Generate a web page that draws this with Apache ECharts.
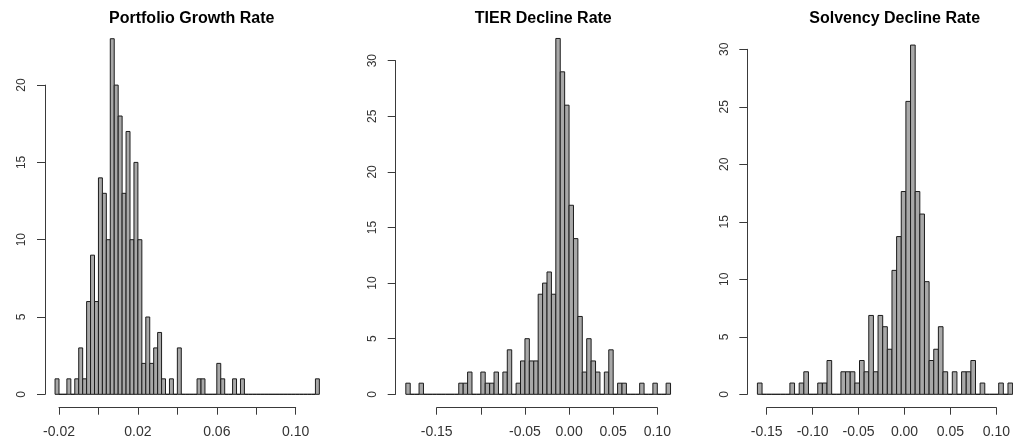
<!DOCTYPE html>
<html><head><meta charset="utf-8">
<script src="https://cdn.jsdelivr.net/npm/echarts@6/dist/echarts.min.js"></script>
<style>html,body{margin:0;padding:0;background:#fff}#c{width:1013px;height:444px}</style>
</head><body><div id="c"></div>
<script>
// ---- data ----
const titles = ['Portfolio Growth Rate', 'TIER Decline Rate', 'Solvency Decline Rate'];

const growthBinStart = -0.022;
const growthBinWidth = 0.002;
const growthCounts = [
  1,0,0,1,0,1,3,1,6,9,
  6,14,13,10,23,20,18,13,17,10,
  15,10,2,5,2,3,4,1,0,1,
  0,3,0,0,0,0,1,1,0,0,
  0,2,1,0,0,1,0,1,0,0,
  0,0,0,0,0,0,0,0,0,0,
  0,0,0,0,0,0,1
];

const tierBinStart = -0.185;
const tierBinWidth = 0.005;
const tierCounts = [
  1,0,0,1,0,0,0,0,0,0,
  0,0,1,1,2,0,0,2,1,1,
  2,0,2,4,0,1,3,5,3,3,
  9,10,11,9,32,29,26,17,14,7,
  2,5,3,2,0,2,4,0,1,1,
  0,0,0,1,0,0,1,0,0,1
];

const solvencyBinStart = -0.16;
const solvencyBinWidth = 0.005;
const solvencyCounts = [
  1,0,0,0,0,0,0,1,0,1,
  2,0,0,1,1,3,0,0,2,2,
  2,1,3,2,7,2,7,6,4,11,
  14,18,26,31,18,16,10,3,4,6,
  2,0,2,0,2,2,3,0,1,0,
  0,0,1,0,1
];

// x tick range [min, max, step] and the labels R printed
const growthXTicks = [-0.02, 0.10, 0.02];
const growthXLabels = ['-0.02', '0.02', '0.06', '0.10'];
const tierXTicks = [-0.15, 0.10, 0.05];
const tierXLabels = ['-0.15', '-0.05', '0.00', '0.05', '0.10'];
const solvencyXTicks = [-0.15, 0.10, 0.05];
const solvencyXLabels = ['-0.15', '-0.10', '-0.05', '0.00', '0.05', '0.10'];
// y tick range [min, max, step]
const growthYTicks = [0, 20, 5];
const tierYTicks = [0, 30, 5];
const solvencyYTicks = [0, 30, 5];

// ---- layout (pixels) ----
const panels = [
  {start: growthBinStart, width: growthBinWidth, counts: growthCounts, xt: growthXTicks, xl: growthXLabels, yt: growthYTicks,
   zeroX: 98.45, pxPerX: 1972.5, pxPerCount: 15.46, yAxisX: 45, titleX: 186.7, barMax: 25},
  {start: tierBinStart, width: tierBinWidth, counts: tierCounts, xt: tierXTicks, xl: tierXLabels, yt: tierYTicks,
   zeroX: 569.06, pxPerX: 882.4, pxPerCount: 11.12, yAxisX: 395.7, titleX: 538.3, barMax: 35},
  {start: solvencyBinStart, width: solvencyBinWidth, counts: solvencyCounts, xt: solvencyXTicks, xl: solvencyXLabels, yt: solvencyYTicks,
   zeroX: 905.9, pxPerX: 928, pxPerCount: 11.5, yAxisX: 747.3, titleX: 889.7, barMax: 35}
];
const baseY = 394.3;
const xAxisY = 407.7;
const FONT = 'Liberation Sans, Arial, Helvetica, sans-serif';
const axisColor = '#3a3a3a';
const labelColor = '#333';

function renderBar(params, api) {
  const a = api.coord([api.value(0), 0]);
  const b = api.coord([api.value(1), api.value(2)]);
  return {
    type: 'rect',
    shape: {x: a[0], y: b[1], width: b[0] - a[0], height: a[1] - b[1]},
    style: {fill: '#a8a8a8', stroke: '#1c1c1c', lineWidth: 1}
  };
}

const grid = [], xAxis = [], yAxis = [], series = [], title = [];
panels.forEach((p, i) => {
  const n = p.counts.length;
  const end = p.start + n * p.width;
  // bars grid
  grid.push({left: p.zeroX + p.start * p.pxPerX, width: n * p.width * p.pxPerX,
             top: baseY - p.barMax * p.pxPerCount, height: p.barMax * p.pxPerCount});
  xAxis.push({gridIndex: 3 * i, type: 'value', min: p.start, max: end, show: false});
  yAxis.push({gridIndex: 3 * i, type: 'value', min: 0, max: p.barMax, show: false});
  // x axis grid
  grid.push({left: p.zeroX + p.xt[0] * p.pxPerX, width: (p.xt[1] - p.xt[0]) * p.pxPerX,
             top: xAxisY - 1, height: 1});
  xAxis.push({gridIndex: 3 * i + 1, type: 'value', min: p.xt[0], max: p.xt[1], interval: p.xt[2],
    axisLine: {show: true, lineStyle: {color: axisColor, width: 1}},
    axisTick: {show: true, length: 7, lineStyle: {color: axisColor, width: 1}},
    splitLine: {show: false},
    axisLabel: {show: true, margin: 17, color: labelColor, fontSize: 14, fontFamily: FONT,
      formatter: v => { const s = (Math.abs(v) < 1e-9 ? 0 : v).toFixed(2); return p.xl.includes(s) ? s : ''; }}
  });
  yAxis.push({gridIndex: 3 * i + 1, type: 'value', min: 0, max: 1, show: false});
  // y axis grid
  const yTop = baseY - p.yt[1] * p.pxPerCount;
  grid.push({left: p.yAxisX, width: 1, top: yTop, height: p.yt[1] * p.pxPerCount});
  xAxis.push({gridIndex: 3 * i + 2, type: 'value', min: 0, max: 1, show: false});
  yAxis.push({gridIndex: 3 * i + 2, type: 'value', position: 'left', min: p.yt[0], max: p.yt[1], interval: p.yt[2],
    axisLine: {show: true, lineStyle: {color: axisColor, width: 1}},
    axisTick: {show: true, length: 8, lineStyle: {color: axisColor, width: 1}},
    splitLine: {show: false},
    axisLabel: {show: true, rotate: 90, margin: 17, color: labelColor, fontSize: 12, fontFamily: FONT}
  });
  series.push({
    type: 'custom', xAxisIndex: 3 * i, yAxisIndex: 3 * i, renderItem: renderBar,
    encode: {x: [0, 1], y: 2},
    data: p.counts.map((c, k) => [p.start + k * p.width, p.start + (k + 1) * p.width, c])
  });
  title.push({text: titles[i], left: p.titleX, top: 6, textAlign: 'center',
    textStyle: {fontSize: 16, fontWeight: 'bold', color: '#000', fontFamily: FONT}});
});

const chart = echarts.init(document.getElementById('c'), null, {renderer: 'canvas'});
chart.setOption({animation: false, backgroundColor: '#fff', title, grid, xAxis, yAxis, series});
</script>
</body></html>
